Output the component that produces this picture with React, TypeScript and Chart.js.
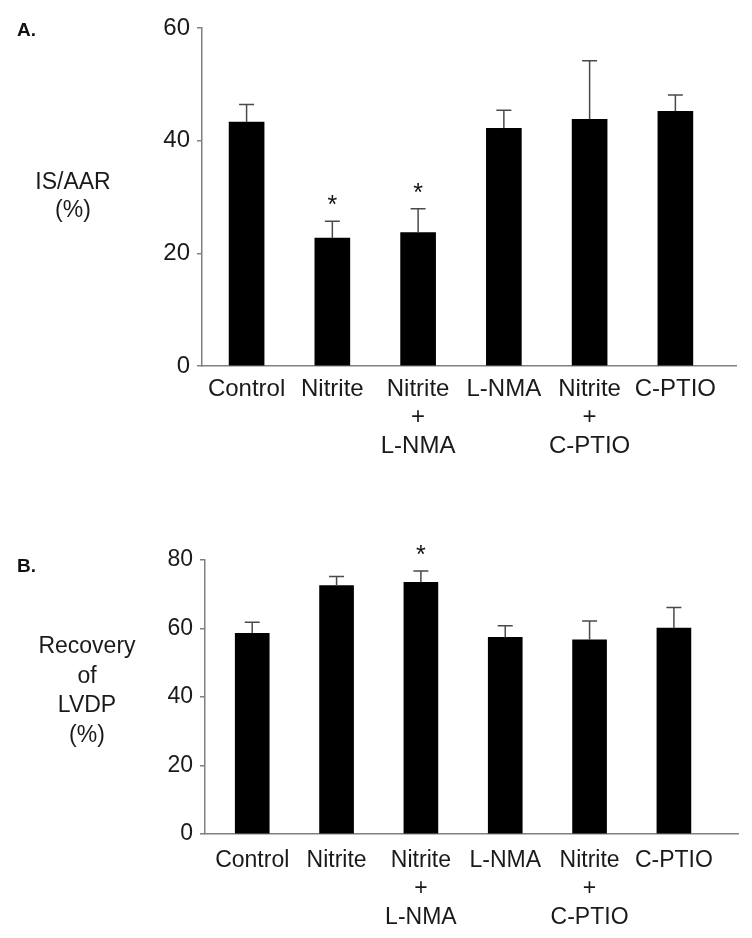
import React, { useEffect, useRef } from "react";
import { Chart, registerables } from "chart.js";

Chart.register(...registerables);

const FONT = '"Liberation Sans", Arial, Helvetica, sans-serif';

// ---- data ----
const categories: string[][] = [
  ["Control"],
  ["Nitrite"],
  ["Nitrite", "+", "L-NMA"],
  ["L-NMA"],
  ["Nitrite", "+", "C-PTIO"],
  ["C-PTIO"],
];

const isAarMean = [43.3, 22.7, 23.7, 42.2, 43.8, 45.2];
const isAarErr = [3.1, 3.0, 4.2, 3.2, 10.4, 2.9];
const isAarSig = [false, true, true, false, false, false];
const isAarTicks = [0, 20, 40, 60];
const isAarTitle = ["IS/AAR", "(%)"];

const lvdpMean = [58.6, 72.5, 73.5, 57.4, 56.7, 60.1];
const lvdpErr = [3.2, 2.7, 3.3, 3.4, 5.5, 6.0];
const lvdpSig = [false, false, true, false, false, false];
const lvdpTicks = [0, 20, 40, 60, 80];
const lvdpTitle = ["Recovery", "of", "LVDP", "(%)"];

// ---- plugin: error bars, significance stars, panel letter, y title ----
const annotate = {
  id: "annotate",
  afterDatasetsDraw(chart: any, _args: any, opts: any) {
    const { ctx } = chart;
    const meta = chart.getDatasetMeta(0);
    const y = chart.scales.y;
    ctx.save();
    ctx.strokeStyle = "#4a4a4a";
    ctx.lineWidth = 1.5;
    ctx.fillStyle = "#111";
    ctx.font = `25px ${FONT}`;
    ctx.textAlign = "center";
    ctx.textBaseline = "alphabetic";
    meta.data.forEach((bar: any, i: number) => {
      const base = y.getPixelForValue(opts.means[i]);
      const top = y.getPixelForValue(opts.means[i] + opts.errs[i]);
      ctx.beginPath();
      ctx.moveTo(bar.x, base);
      ctx.lineTo(bar.x, top);
      ctx.moveTo(bar.x - 7.5, top);
      ctx.lineTo(bar.x + 7.5, top);
      ctx.stroke();
      if (opts.sig[i]) {
        ctx.fillText("*", bar.x, top - 8);
      }
    });
    // panel letter
    ctx.textAlign = "left";
    ctx.font = `bold 19px ${FONT}`;
    ctx.fillText(opts.letter, opts.letterX, opts.letterY);
    // y title (horizontal, multi-line)
    ctx.font = `23px ${FONT}`;
    ctx.textAlign = "center";
    ctx.textBaseline = "middle";
    ctx.fillStyle = "#1a1a1a";
    opts.title.forEach((line: string, k: number) => {
      ctx.fillText(line, opts.titleX, opts.titleY + k * opts.titleStep);
    });
    ctx.restore();
  },
};

type PanelProps = {
  means: number[];
  errs: number[];
  sig: boolean[];
  yTicks: number[];
  title: string[];
  letter: string;
  top: number;
  height: number;
  yWidth: number;
  padTop: number;
  padRight: number;
  xMin: number;
  xMax: number;
  barW: number;
  fontSize: number;
  xPad: number;
  lineH: number;
  letterY: number;
  titleX: number;
  titleY: number;
  titleStep: number;
};

function Panel(p: PanelProps) {
  const ref = useRef<HTMLCanvasElement | null>(null);
  useEffect(() => {
    if (!ref.current) return;
    const xAxisH = 100;
    const chart = new Chart(ref.current, {
      type: "bar",
      data: {
        datasets: [
          {
            data: p.means.map((v, i) => ({ x: i, y: v })),
            backgroundColor: "#000000",
            borderWidth: 0,
            barThickness: p.barW,
          },
        ],
      },
      options: {
        animation: false,
        responsive: false,
        maintainAspectRatio: false,
        layout: {
          padding: { top: p.padTop, right: p.padRight, left: 0, bottom: 4 },
        },
        plugins: {
          legend: { display: false },
          tooltip: { enabled: false },
          title: { display: false },
          annotate: {
            means: p.means,
            errs: p.errs,
            sig: p.sig,
            letter: p.letter,
            letterX: 17,
            letterY: p.letterY,
            title: p.title,
            titleX: p.titleX,
            titleY: p.titleY,
            titleStep: p.titleStep,
          },
        } as any,
        scales: {
          x: {
            type: "linear",
            offset: false,
            min: p.xMin,
            max: p.xMax,
            grid: { display: false, offset: false },
            border: { display: true, color: "#808080", width: 1.5 },
            afterBuildTicks: (scale: any) => {
              scale.ticks = categories.map((_, i) => ({ value: i }));
            },
            afterFit: (scale: any) => {
              scale.height = xAxisH;
            },
            ticks: {
              autoSkip: false,
              maxRotation: 0,
              minRotation: 0,
              padding: p.xPad,
              color: "#1a1a1a",
              font: { family: FONT, size: p.fontSize, lineHeight: p.lineH },
              callback: (v: any) => categories[v] ?? "",
            },
          },
          y: {
            type: "linear",
            min: p.yTicks[0],
            max: p.yTicks[p.yTicks.length - 1],
            afterBuildTicks: (scale: any) => {
              scale.ticks = p.yTicks.map((v) => ({ value: v }));
            },
            afterFit: (scale: any) => {
              scale.width = p.yWidth;
            },
            grid: {
              display: true,
              drawOnChartArea: false,
              drawTicks: true,
              tickLength: 5,
              color: "#808080",
              lineWidth: 1.5,
            },
            border: { display: true, color: "#808080", width: 1.5 },
            ticks: {
              padding: 7,
              color: "#1a1a1a",
              font: { family: FONT, size: p.fontSize },
            },
          },
        },
      },
      plugins: [annotate as any],
    });
    return () => chart.destroy();
  }, []);
  return (
    <canvas
      ref={ref}
      width={752}
      height={p.height}
      style={{ position: "absolute", left: 0, top: p.top, width: 752, height: p.height }}
    />
  );
}

export default function App() {
  return (
    <div style={{ position: "absolute", left: 0, top: 0, width: 752, height: 938, background: "#fff" }}>
      <Panel
        means={isAarMean}
        errs={isAarErr}
        sig={isAarSig}
        yTicks={isAarTicks}
        title={isAarTitle}
        letter="A."
        top={0}
        height={470}
        yWidth={202}
        padTop={28}
        padRight={16}
        xMin={-0.52}
        xMax={5.707}
        barW={35}
        fontSize={24}
        xPad={1}
        lineH={1.19}
        letterY={36}
        titleX={73}
        titleY={183}
        titleStep={28}
      />
      <Panel
        means={lvdpMean}
        errs={lvdpErr}
        sig={lvdpSig}
        yTicks={lvdpTicks}
        title={lvdpTitle}
        letter="B."
        top={470}
        height={468}
        yWidth={205}
        padTop={90}
        padRight={14}
        xMin={-0.56}
        xMax={5.76}
        barW={34}
        fontSize={23}
        xPad={4}
        lineH={1.25}
        letterY={102}
        titleX={87}
        titleY={177}
        titleStep={29.5}
      />
    </div>
  );
}
